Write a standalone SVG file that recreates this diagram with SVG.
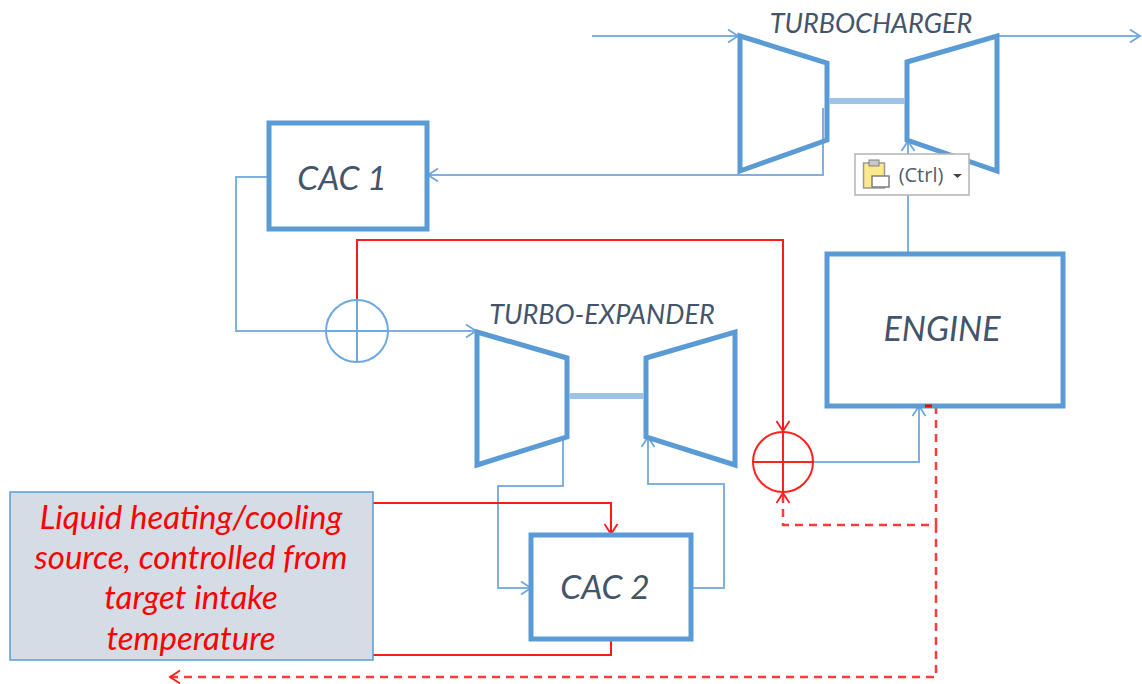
<svg xmlns="http://www.w3.org/2000/svg" width="1142" height="684" viewBox="0 0 1142 684">
<style>
.box{fill:#fff;stroke:#5b9bd5;stroke-width:5;stroke-linejoin:miter}
.tr{fill:none;stroke:#5b9bd5;stroke-width:5;stroke-linejoin:miter}
.shaft{stroke:#9dc3e6;stroke-width:6;fill:none}
.b{fill:none;stroke:#7eb1e0;stroke-width:2}
.r{fill:none;stroke:#ff1a1a;stroke-width:2}
.d{fill:none;stroke:#ff3b3b;stroke-width:2.500;stroke-dasharray:8 6}
.lbl{font-family:"Lato","Liberation Sans",sans-serif;font-style:italic;fill:#44546a;text-anchor:middle}
.src{font-family:"Lato","Liberation Sans",sans-serif;font-style:italic;fill:#ff0000;text-anchor:middle;font-size:33px}
</style>
<defs>
<marker id="ab" markerUnits="userSpaceOnUse" markerWidth="16" markerHeight="16" refX="13" refY="8" orient="auto"><path d="M3 1.5L13 8L3 14.5" fill="none" stroke="#6ea8dc" stroke-width="1.8"/></marker>
<marker id="ar" markerUnits="userSpaceOnUse" markerWidth="16" markerHeight="16" refX="13" refY="8" orient="auto"><path d="M3 1.5L13 8L3 14.5" fill="none" stroke="#ff1a1a" stroke-width="1.8"/></marker>
</defs>
<rect width="1142" height="684" fill="#fff"/>
<g id="connectors">
<path class="b" d="M592 36H738" marker-end="url(#ab)"/>
<path class="b" d="M997 36H1140" marker-end="url(#ab)"/>
<path class="b" d="M823 108V175H428" marker-end="url(#ab)"/>
<path class="b" d="M269 177H236V331H476" marker-end="url(#ab)"/>
<path class="b" d="M908 254V141" marker-end="url(#ab)"/>
<path class="b" d="M783 462H919V406" marker-end="url(#ab)"/>
<path class="b" d="M563 437V486H498V588H531" marker-end="url(#ab)"/>
<path class="b" d="M691 588H724V484H648V437" marker-end="url(#ab)"/>
<path class="r" d="M357 300V240H783V431" marker-end="url(#ar)"/>
<path class="r" d="M373 503H611V534" marker-end="url(#ar)"/>
<path class="r" d="M373 655H611V639"/>
<path class="d" d="M936 406V525H783V493" marker-end="url(#ar)"/>
<path class="d" d="M936 525V677H170" marker-end="url(#ar)"/>
</g>
<g id="turbocharger">
<path class="tr" d="M740 36L827 63V140L740 171Z"/>
<path class="tr" d="M907 62L997 36V171L907 140Z"/>
<path class="shaft" d="M829 101H905"/>
<text class="lbl" x="871" y="33" font-size="27">TURBOCHARGER</text>
</g>
<g id="cac1">
<rect class="box" x="269" y="123" width="158" height="106"/>
<text class="lbl" x="342" y="190" font-size="33.500">CAC 1</text>
</g>
<g id="engine">
<rect class="box" x="827" y="254" width="236" height="152"/>
<text class="lbl" x="942" y="341" font-size="34">ENGINE</text>
</g>
<g id="turbo-expander">
<path class="tr" d="M477 332L567 358V437L477 465Z"/>
<path class="tr" d="M646 358L735 332V465L646 437Z"/>
<path class="shaft" d="M569 396H644"/>
<text class="lbl" x="602" y="324" font-size="27">TURBO-EXPANDER</text>
</g>
<g id="cac2">
<rect class="box" x="531" y="535" width="160" height="104"/>
<text class="lbl" x="605" y="599" font-size="33.500">CAC 2</text>
</g>
<g id="source">
<rect x="10" y="492" width="363" height="168" fill="#d6dce5" stroke="#5b9bd5" stroke-width="1.5"/>
<text class="src" x="191" y="529">Liquid heating/cooling</text>
<text class="src" x="191" y="569">source, controlled from</text>
<text class="src" x="191" y="609">target intake</text>
<text class="src" x="191" y="650">temperature</text>
</g>
<g id="sum-blue" fill="none" stroke="#6ea8dc" stroke-width="2">
<circle cx="357" cy="331" r="31"/>
<path d="M357 300V362M326 331H388"/>
</g>
<g id="sum-red" fill="none" stroke="#ff2020" stroke-width="2">
<circle cx="783" cy="462" r="30"/>
<path d="M783 432V492M753 462H813"/>
</g>
<path d="M925 406H932" stroke="#ff0000" stroke-width="3"/>
<g id="paste-options">
<rect x="855" y="154" width="114" height="41" fill="#fff" stroke="#b4b4b4" stroke-width="1.5"/>
<rect x="863.500" y="163" width="21" height="25" fill="#fde98a" stroke="#9a9a9a" stroke-width="1.5"/>
<rect x="869" y="160" width="10" height="6" fill="#c8c8c8" stroke="#808080"/>
<path d="M872 176H889V187H872Z" fill="#fff" stroke="#808080" stroke-width="1.5"/>
<text x="921" y="182" font-family="Open Sans, Liberation Sans, sans-serif" font-size="20" fill="#555b6e" text-anchor="middle">(Ctrl)</text>
<path d="M953 174H962L957.500 178Z" fill="#444"/>
</g>
</svg>
